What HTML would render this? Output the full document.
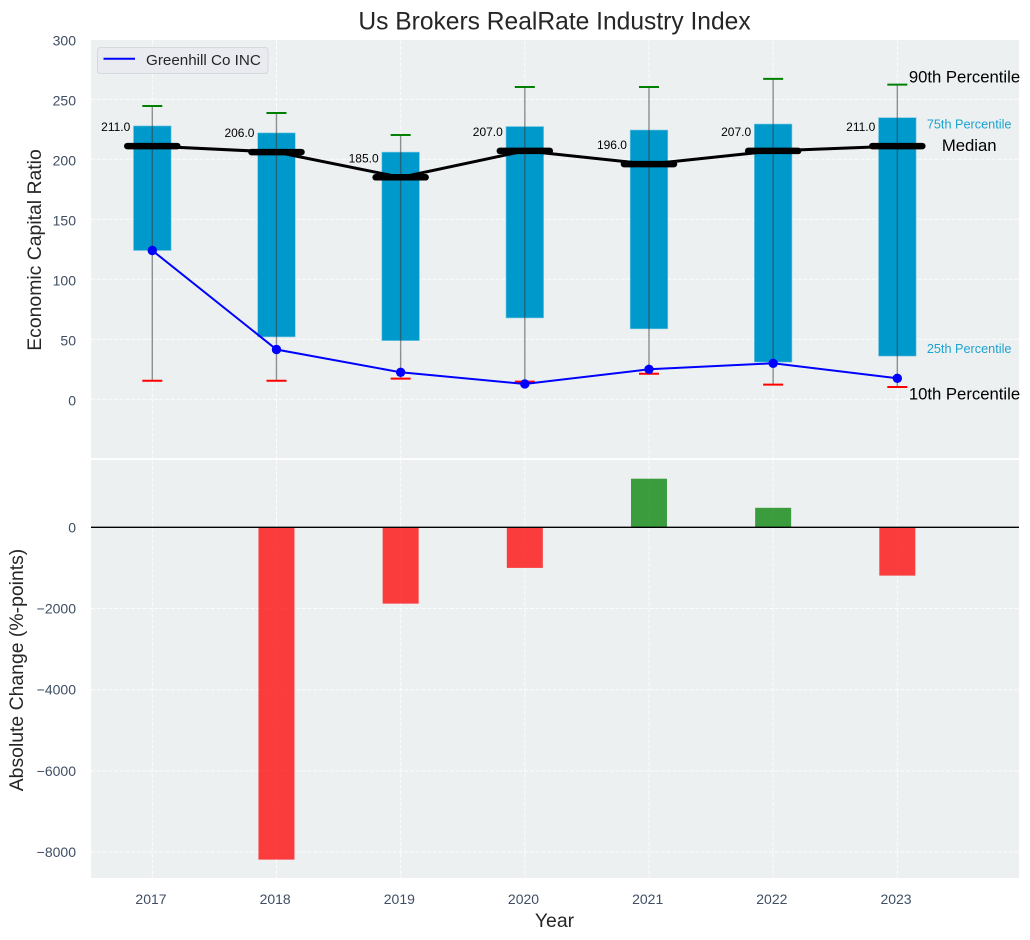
<!DOCTYPE html>
<html>
<head>
<meta charset="utf-8">
<title>Us Brokers RealRate Industry Index</title>
<style>
html,body{margin:0;padding:0;background:#fff;width:1030px;height:940px;overflow:hidden}
svg{display:block;font-family:"Liberation Sans",Arial,sans-serif}
</style>
</head>
<body>
<svg id="chart" width="1030" height="940" viewBox="0 0 1030 940"></svg>
<script>
const years = [2017, 2018, 2019, 2020, 2021, 2022, 2023];
const p90 = [244.4, 238.6, 220.3, 260.3, 260.3, 267, 262.2];
const p75 = [227.8, 222, 206, 227.3, 224.4, 229.4, 234.7];
const median = [211, 206, 185, 207, 196, 207, 211];
const p25 = [124, 52, 48.9, 67.8, 58.7, 31, 36];
const p10 = [15.5, 15.5, 17.2, 14.7, 21.3, 12.2, 10.3];
const company = [124, 41.5, 22.5, 12.8, 25, 30, 17.5];
const changes = [0, -8185, -1880, -1000, 1197, 480, -1190];
const topTicks = [0, 50, 100, 150, 200, 250, 300];
const bottomTicks = [0, -2000, -4000, -6000, -8000];

const NS = 'http://www.w3.org/2000/svg';
const svg = document.getElementById('chart');
const L = 91, R = 1019;
const sx = v => 152.3 + (v - 2017) * 124.17;
const syTop = v => 399.3 - v * 1.2;
const syBot = v => 527.3 - v * 0.0406;

function mk(tag, attrs, text, parent) {
  const e = document.createElementNS(NS, tag);
  for (const k in attrs) e.setAttribute(k, attrs[k]);
  if (text !== undefined) e.textContent = text;
  (parent || svg).appendChild(e);
  return e;
}
function group(name) {
  const g = mk('g', {});
  
  
  return g;
}
const gridStyle = {stroke: '#ffffff', 'stroke-width': 1, 'stroke-dasharray': '4 1.7', opacity: 0.85};
const tickColor = '#3f4e63';

/* panels */
const panelTop = mk('rect', {x: L, y: 40, width: R - L, height: 418.2, fill: '#ecf0f1'});


const panelBot = mk('rect', {x: L, y: 460, width: R - L, height: 418, fill: '#ecf0f1'});



/* grid */
const grid = group('grid-lines');
years.forEach(y => {
  mk('line', Object.assign({x1: sx(y), x2: sx(y), y1: 40, y2: 458.2}, gridStyle), undefined, grid);
  mk('line', Object.assign({x1: sx(y), x2: sx(y), y1: 460, y2: 878}, gridStyle), undefined, grid);
});
topTicks.forEach(t => mk('line', Object.assign({x1: L, x2: R, y1: syTop(t), y2: syTop(t)}, gridStyle), undefined, grid));
bottomTicks.forEach(t => mk('line', Object.assign({x1: L, x2: R, y1: syBot(t), y2: syBot(t)}, gridStyle), undefined, grid));

/* tick labels */
const yTicksTop = group('top-y-axis-ticks');
topTicks.forEach(t => mk('text', {x: 76, y: syTop(t) + 6, 'text-anchor': 'end', 'font-size': 14, fill: tickColor}, String(t), yTicksTop));
const yTicksBot = group('bottom-y-axis-ticks');
bottomTicks.forEach(t => mk('text', {x: 76, y: syBot(t) + 5, 'text-anchor': 'end', 'font-size': 14, fill: tickColor}, String(t).replace('-', '\u2212'), yTicksBot));
const xTicks = group('x-axis-ticks');
years.forEach(y => mk('text', {x: sx(y) - 1.3, y: 904, 'text-anchor': 'middle', 'font-size': 14, fill: tickColor}, String(y), xTicks));

/* boxes */
const boxes = group('percentile-boxes');
years.forEach((y, i) => {
  const top = syTop(p75[i]), bot = syTop(p25[i]);
  const r = mk('rect', {x: sx(y) - 18.8, y: top, width: 37.6, height: bot - top, fill: '#0099cc', stroke: '#7cc8e2', 'stroke-width': 0.6}, undefined, boxes);
  
  
});

/* whiskers */
const whiskers = group('percentile-whiskers');
years.forEach((y, i) => {
  mk('line', {x1: sx(y), x2: sx(y), y1: syTop(p90[i]), y2: syTop(p10[i]), stroke: '#3a3a3a', 'stroke-opacity': 0.55, 'stroke-width': 1.4}, undefined, whiskers);
  mk('line', {x1: sx(y) - 10, x2: sx(y) + 10, y1: syTop(p90[i]), y2: syTop(p90[i]), stroke: '#008000', 'stroke-width': 2}, undefined, whiskers);
  mk('line', {x1: sx(y) - 10, x2: sx(y) + 10, y1: syTop(p10[i]), y2: syTop(p10[i]), stroke: '#ff0000', 'stroke-width': 2}, undefined, whiskers);
});

/* median line */
const medGroup = group('median-series');
mk('polyline', {points: years.map((y, i) => sx(y) + ',' + syTop(median[i])).join(' '), fill: 'none', stroke: '#000', 'stroke-width': 3}, undefined, medGroup);
years.forEach((y, i) => {
  mk('line', {x1: sx(y) - 25, x2: sx(y) + 25, y1: syTop(median[i]), y2: syTop(median[i]), stroke: '#000', 'stroke-width': 6.5, 'stroke-linecap': 'round'}, undefined, medGroup);
  const t = mk('text', {x: sx(y) - 22, y: syTop(median[i]) - 15, 'text-anchor': 'end', 'font-size': 12, fill: '#000'}, median[i].toFixed(1), medGroup);
  
  
});

/* company line */
const compGroup = group('company-series');
mk('polyline', {points: years.map((y, i) => sx(y) + ',' + syTop(company[i])).join(' '), fill: 'none', stroke: '#0000ff', 'stroke-width': 2}, undefined, compGroup);
years.forEach((y, i) => mk('circle', {cx: sx(y), cy: syTop(company[i]), r: 4.7, fill: '#0000ff'}, undefined, compGroup));

/* annotations, anchored to the last year's values */
const last = years.length - 1;
const ann = group('percentile-annotations');
const lx = sx(years[last]);
mk('text', {x: lx + 11.5, y: syTop(p90[last]) - 2, 'font-size': 16.7, fill: '#000'}, '90th Percentile', ann);
mk('text', {x: lx + 11.5, y: syTop(p10[last]) + 12.5, 'font-size': 16.7, fill: '#000'}, '10th Percentile', ann);
mk('text', {x: lx + 44.5, y: syTop(median[last]) + 5, 'font-size': 16.7, fill: '#000'}, 'Median', ann);
mk('text', {x: lx + 29.5, y: syTop(p75[last]) + 11, 'font-size': 12.7, fill: '#1ba3d1'}, '75th Percentile', ann);
mk('text', {x: lx + 29.5, y: syTop(p25[last]) - 3, 'font-size': 12.7, fill: '#1ba3d1'}, '25th Percentile', ann);

/* change bars */
const bars = group('change-bars');
years.forEach((y, i) => {
  const v = changes[i];
  if (v === 0) return;
  const y0 = syBot(Math.max(v, 0)), y1 = syBot(Math.min(v, 0));
  const b = mk('rect', {x: sx(y) - 18, y: y0, width: 36, height: y1 - y0, fill: v < 0 ? '#ff0000' : '#008000', 'fill-opacity': 0.75}, undefined, bars);
  
  
});
const zero = mk('line', {x1: L, x2: R, y1: syBot(0), y2: syBot(0), stroke: '#000', 'stroke-width': 1.3});



/* titles */
const title = mk('text', {x: 554.5, y: 29.5, 'text-anchor': 'middle', 'font-size': 24.6, fill: '#262626'}, 'Us Brokers RealRate Industry Index');


const xTitle = mk('text', {x: 554.5, y: 927, 'text-anchor': 'middle', 'font-size': 19.4, fill: '#262626'}, 'Year');


const yTop = mk('text', {transform: 'translate(41,250) rotate(-90)', 'text-anchor': 'middle', 'font-size': 19.4, fill: '#262626'}, 'Economic Capital Ratio');


const yBot = mk('text', {transform: 'translate(23,670) rotate(-90)', 'text-anchor': 'middle', 'font-size': 19.4, fill: '#262626'}, 'Absolute Change (%-points)');



/* legend */
const legend = group('legend');
mk('rect', {x: 97.5, y: 47.5, width: 170.5, height: 26, rx: 3, fill: '#e9ebf0', stroke: '#d5d8dc', 'stroke-width': 1}, undefined, legend);
mk('line', {x1: 103.5, x2: 135, y1: 58.7, y2: 58.7, stroke: '#0000ff', 'stroke-width': 2}, undefined, legend);
mk('text', {x: 146, y: 65, 'font-size': 15.2, fill: '#262626'}, 'Greenhill Co INC', legend);
</script>
</body>
</html>
